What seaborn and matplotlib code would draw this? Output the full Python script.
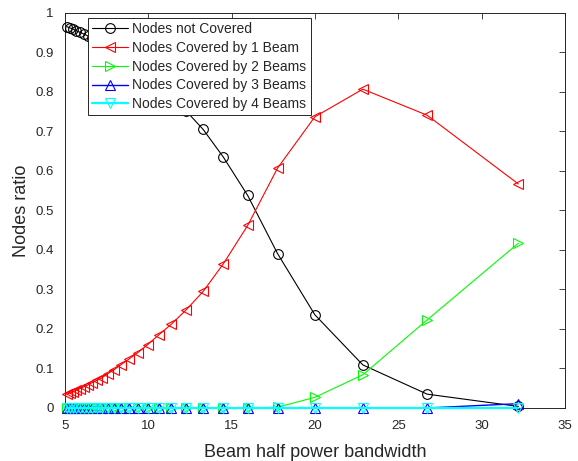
import numpy as np
import pandas as pd
import seaborn as sns
import matplotlib.pyplot as plt

# beam half power bandwidth (x axis)
hpbw = [5.12, 5.30, 5.48, 5.67, 5.89, 6.11, 6.36, 6.62, 6.91, 7.23, 7.57,
        7.95, 8.37, 8.84, 9.36, 9.95, 10.62, 11.38, 12.26, 13.29, 14.50,
        15.96, 17.75, 19.99, 22.87, 26.73, 32.20]

not_covered = [0.965, 0.962, 0.959, 0.955, 0.951, 0.947, 0.942, 0.936, 0.930,
               0.923, 0.913, 0.903, 0.890, 0.876, 0.860, 0.840, 0.815, 0.788,
               0.752, 0.705, 0.635, 0.538, 0.391, 0.236, 0.109, 0.035, 0.004]
covered_1 = [0.035, 0.038, 0.041, 0.045, 0.049, 0.053, 0.058, 0.064, 0.070,
             0.077, 0.087, 0.097, 0.110, 0.124, 0.140, 0.160, 0.185, 0.212,
             0.248, 0.295, 0.365, 0.462, 0.607, 0.737, 0.807, 0.741, 0.567]
covered_2 = [0.0] * 22 + [0.002, 0.027, 0.084, 0.223, 0.417]
covered_3 = [0.0] * 26 + [0.011]
covered_4 = [0.0] * 27

labels = ['Nodes not Covered', 'Nodes Covered by 1 Beam',
          'Nodes Covered by 2 Beams', 'Nodes Covered by 3 Beams',
          'Nodes Covered by 4 Beams']

df = pd.DataFrame({'hpbw': hpbw, labels[0]: not_covered, labels[1]: covered_1,
                   labels[2]: covered_2, labels[3]: covered_3,
                   labels[4]: covered_4})
long = df.melt(id_vars='hpbw', var_name='series', value_name='ratio')

sns.set_style('white')
plt.rcParams['font.family'] = ['Liberation Sans', 'DejaVu Sans']

colors = ['black', 'red', '#00ff00', 'blue', 'cyan']
markers = ['o', '<', '>', '^', 'v']
widths = [0.8, 0.8, 0.8, 1.0, 1.6]

fig = plt.figure(figsize=(5.78, 4.61), dpi=100)
ax = fig.add_axes([0.1125, 0.115, 0.865, 0.857])

for lab, c, m, lw in zip(labels, colors, markers, widths):
    sub = long[long['series'] == lab]
    sns.lineplot(data=sub, x='hpbw', y='ratio', ax=ax, color=c, marker=m,
                 markersize=7, markerfacecolor='none', markeredgecolor=c,
                 markeredgewidth=0.8, linewidth=lw, label=lab,
                 clip_on=False, zorder=3)

ax.set_xlim(5, 35)
ax.set_ylim(0, 1)
ax.set_xticks(range(5, 36, 5))
ax.set_yticks(np.arange(0, 1.01, 0.1))
ax.set_yticklabels(['0', '0.1', '0.2', '0.3', '0.4', '0.5', '0.6', '0.7',
                    '0.8', '0.9', '1'])
ax.tick_params(direction='in', length=4, width=0.6, top=True, right=True,
               labelsize=9.5, colors='#262626')
ax.tick_params(axis='x', pad=9)
ax.tick_params(axis='y', pad=8)
for s in ax.spines.values():
    s.set_color('#262626')
    s.set_linewidth(0.7)
ax.set_xlabel('Beam half power bandwidth', fontsize=13, color='#262626',
              labelpad=8)
ax.set_ylabel('Nodes ratio', fontsize=13, color='#262626', labelpad=4)

leg = ax.legend(loc='upper left', bbox_to_anchor=(0.046, 0.988), fontsize=10,
                frameon=True, fancybox=False, edgecolor='#262626',
                facecolor='white', framealpha=1,
                handlelength=2.6, handletextpad=0.3, labelspacing=0.35,
                borderpad=0.3, borderaxespad=0)
leg.get_frame().set_linewidth(0.7)
leg.set_zorder(5)

fig.savefig('out.png', dpi=100)
